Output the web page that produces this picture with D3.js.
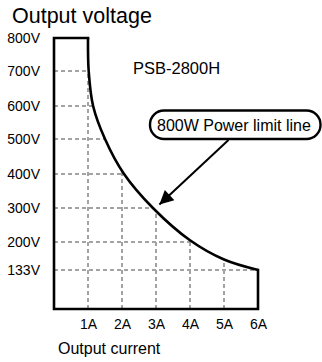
<!DOCTYPE html>
<html><head><meta charset="utf-8">
<script src="https://cdn.jsdelivr.net/npm/d3@7"></script>
<style>
html,body{margin:0;padding:0;background:#fff;}
svg{display:block;font-family:"Liberation Sans",Arial,Helvetica,sans-serif;}
</style></head>
<body><svg id="chart" width="322" height="362"></svg>
<script>
// ---- data ----
const currentTicks = [1, 2, 3, 4, 5, 6];
const currentLabels = ["1A", "2A", "3A", "4A", "5A", "6A"];
const voltageTicks = [133, 200, 300, 400, 500, 600, 700, 800];
const voltageLabels = ["133V", "200V", "300V", "400V", "500V", "600V", "700V", "800V"];
const limitCurrent = [1.0, 1.02, 1.15, 1.5, 2.06, 2.91, 4.0, 5.0, 6.0];
const limitVoltage = [800, 700, 600, 500, 400, 300, 205, 158, 133];
const maxCurrent = 6;
const maxVoltage = 800;
const modelName = "PSB-2800H";
const calloutText = "800W Power limit line";
const arrowTip = [3.1, 310];

// ---- scales ----
const svg = d3.select("#chart");
const x = d3.scaleLinear().domain([0, 6]).range([54, 258]);
const y = d3.scaleLinear()
  .domain([0, 133, 200, 300, 400, 500, 600, 700, 800])
  .range([309, 270, 242, 208, 174, 139, 106, 71, 38]);

function curveIAtV(v) {
  for (let i = 0; i < limitVoltage.length - 1; i++) {
    const a = limitVoltage[i], b = limitVoltage[i + 1];
    if (v <= a && v >= b) {
      const t = (a - v) / (a - b);
      return limitCurrent[i] + t * (limitCurrent[i + 1] - limitCurrent[i]);
    }
  }
  return maxCurrent;
}
function curveVAtI(c) {
  for (let i = 0; i < limitCurrent.length - 1; i++) {
    const a = limitCurrent[i], b = limitCurrent[i + 1];
    if (c >= a && c <= b) {
      const t = (c - a) / (b - a);
      return limitVoltage[i] + t * (limitVoltage[i + 1] - limitVoltage[i]);
    }
  }
  return maxVoltage;
}

// ---- grid ----
const grid = svg.append("g").attr("stroke", "#a3a3a3").attr("stroke-width", 2)
  .attr("stroke-dasharray", "4,3").attr("fill", "none");
voltageTicks.filter(v => v < maxVoltage).forEach(v => {
  grid.append("line").attr("x1", x(0)).attr("x2", x(curveIAtV(v)))
    .attr("y1", y(v)).attr("y2", y(v));
});
currentTicks.filter(c => c < maxCurrent).forEach(c => {
  const top = c === 1 ? limitVoltage[1] : curveVAtI(c);
  grid.append("line").attr("x1", x(c)).attr("x2", x(c))
    .attr("y1", y(0)).attr("y2", y(top));
});

// ---- outline ----
const outline = d3.line().x(d => x(d[0])).y(d => y(d[1]));
svg.append("path")
  .attr("d", outline([[limitCurrent[0], maxVoltage], [0, maxVoltage], [0, 0], [maxCurrent, 0], [maxCurrent, limitVoltage[limitVoltage.length - 1]]]))
  .attr("fill", "none").attr("stroke", "#000").attr("stroke-width", 2.6)
  .attr("stroke-linejoin", "miter").attr("stroke-linecap", "square");
const curveLine = d3.line().x(d => x(d[0])).y(d => y(d[1])).curve(d3.curveCatmullRom.alpha(0.5));
svg.append("path")
  .attr("d", curveLine(limitCurrent.map((c, i) => [c, limitVoltage[i]])))
  .attr("fill", "none").attr("stroke", "#000").attr("stroke-width", 2.6);

// ---- axis labels ----
const yAxis = d3.axisLeft(y).tickValues(voltageTicks)
  .tickFormat((d, i) => voltageLabels[i]).tickSize(0).tickPadding(14);
const gy = svg.append("g").attr("transform", `translate(${x(0)},0)`).call(yAxis);
gy.select(".domain").remove();
gy.selectAll("text").attr("font-size", 14).attr("fill", "#000")
  .attr("font-family", '"Liberation Sans",Arial,sans-serif');

const xAxis = d3.axisBottom(x).tickValues(currentTicks)
  .tickFormat((d, i) => currentLabels[i]).tickSize(0).tickPadding(10);
const gx = svg.append("g").attr("transform", `translate(0,${y(0)})`).call(xAxis);
gx.select(".domain").remove();
gx.selectAll("text").attr("font-size", 14).attr("fill", "#000")
  .attr("font-family", '"Liberation Sans",Arial,sans-serif');

// ---- titles ----
svg.append("text").attr("x", 12).attr("y", 23).attr("font-size", 21.5).text("Output voltage");
svg.append("text").attr("x", 58).attr("y", 354).attr("font-size", 16).text("Output current");
svg.append("text").attr("x", 133).attr("y", 74).attr("font-size", 16.5).text(modelName);

// ---- callout ----
svg.append("rect").attr("x", 150).attr("y", 110.5).attr("width", 170.5).attr("height", 28.5)
  .attr("rx", 14).attr("fill", "#fff").attr("stroke", "#000").attr("stroke-width", 2.4);
svg.append("text").attr("x", 157).attr("y", 131).attr("font-size", 16).text(calloutText);

svg.append("defs").append("marker").attr("id", "ah")
  .attr("viewBox", "0 0 10 10").attr("refX", 10).attr("refY", 5)
  .attr("markerWidth", 8).attr("markerHeight", 7).attr("markerUnits", "strokeWidth")
  .attr("orient", "auto")
  .append("path").attr("d", "M0,0 L10,5 L0,10 Z").attr("fill", "#000");
svg.append("line").attr("x1", 228.5).attr("y1", 140).attr("x2", x(arrowTip[0])).attr("y2", y(arrowTip[1]))
  .attr("stroke", "#000").attr("stroke-width", 2).attr("marker-end", "url(#ah)");
</script></body></html>
